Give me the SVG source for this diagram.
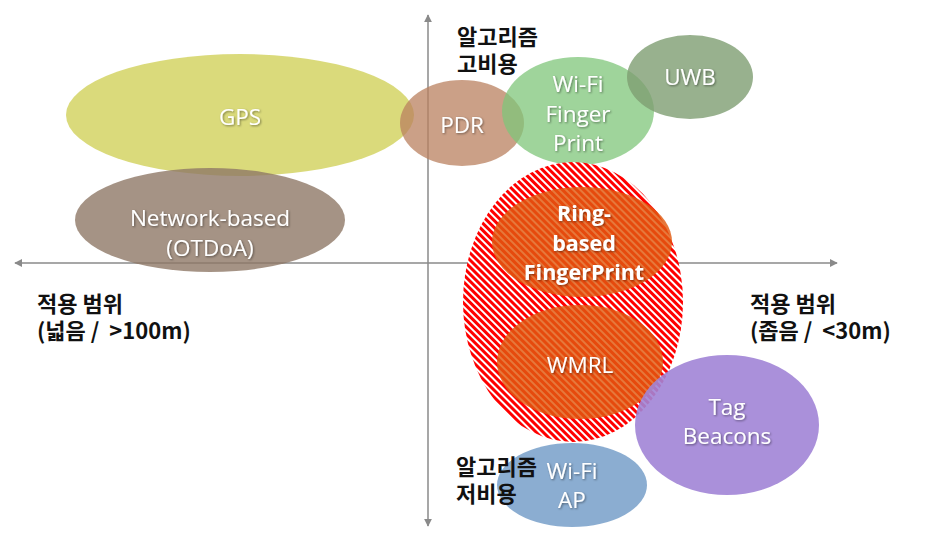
<svg xmlns="http://www.w3.org/2000/svg" width="944" height="542" viewBox="0 0 944 542">
<defs>
<marker id="arr" viewBox="0 0 10 10" refX="9" refY="5" markerWidth="8" markerHeight="8" markerUnits="userSpaceOnUse" orient="auto-start-reverse">
<path d="M0,0 L10,5 L0,10 Z" fill="#8a8a8a"/>
</marker>
<pattern id="hatch" width="5" height="5" patternUnits="userSpaceOnUse" patternTransform="rotate(45)">
<rect width="5" height="5" fill="#ffffff"/>
<rect width="5" height="3" fill="#ff0000"/>
</pattern>
<filter id="ts" x="-20%" y="-20%" width="140%" height="140%">
<feDropShadow dx="1" dy="1" stdDeviation="1" flood-color="#000" flood-opacity="0.45"/>
</filter>
</defs>
<style>
.lbl{font-family:"Segoe UI","Open Sans","Noto Sans",sans-serif;font-size:22.5px;fill:#fff;text-anchor:middle;filter:url(#ts)}
.bold{font-weight:bold}
.kr{font-family:"Noto Sans CJK KR","Noto Sans",sans-serif;font-size:22px;font-weight:bold;fill:#111}
.axis{stroke:#8a8a8a;stroke-width:1.5;fill:none}
</style>
<rect width="944" height="542" fill="#fff"/>
<g id="connectors">
<line class="axis" x1="428" y1="526" x2="428" y2="15" marker-end="url(#arr)" marker-start="url(#arr)"/>
<line class="axis" x1="15" y1="263" x2="837" y2="263" marker-end="url(#arr)" marker-start="url(#arr)"/>
</g>
<g id="gps">
<ellipse cx="240" cy="115" rx="174" ry="61" fill="#d3d364" fill-opacity="0.85"/>
<text class="lbl" x="240" y="125">GPS</text>
</g>
<g id="network">
<ellipse cx="210" cy="220" rx="135" ry="52" fill="#8f7866" fill-opacity="0.8"/>
<text class="lbl" x="210" y="226">Network-based</text>
<text class="lbl" x="210" y="256">(OTDoA)</text>
</g>
<g id="pdr">
<ellipse cx="462" cy="123" rx="62" ry="43" fill="#b9805f" fill-opacity="0.75"/>
<text class="lbl" x="462" y="133">PDR</text>
</g>
<g id="wififp">
<ellipse cx="578" cy="111" rx="76" ry="54" fill="#7fc57a" fill-opacity="0.75"/>
<text class="lbl" x="578" y="92">Wi-Fi</text>
<text class="lbl" x="578" y="122">Finger</text>
<text class="lbl" x="578" y="151">Print</text>
</g>
<g id="uwb">
<ellipse cx="690" cy="77" rx="63" ry="42" fill="#7e9d72" fill-opacity="0.8"/>
<text class="lbl" x="690" y="85">UWB</text>
</g>
<g id="hatched">
<ellipse cx="573" cy="302" rx="110" ry="140" fill="url(#hatch)"/>
</g>
<g id="ring">
<ellipse cx="582" cy="242" rx="90" ry="55" fill="#e05a10" fill-opacity="0.82"/>
<text class="lbl bold" x="584" y="221" style="font-size:21.5px">Ring-</text>
<text class="lbl bold" x="584" y="251" style="font-size:21.5px">based</text>
<text class="lbl bold" x="584" y="280" style="font-size:21.5px">FingerPrint</text>
</g>
<g id="wmrl">
<ellipse cx="580" cy="362" rx="83" ry="57" fill="#e05a10" fill-opacity="0.82"/>
<text class="lbl" x="580" y="373">WMRL</text>
</g>
<g id="tag">
<ellipse cx="727" cy="425" rx="92" ry="70" fill="#a184d6" fill-opacity="0.9"/>
<text class="lbl" x="727" y="415">Tag</text>
<text class="lbl" x="727" y="444">Beacons</text>
</g>
<g id="wifiap">
<ellipse cx="572" cy="485" rx="75" ry="42" fill="#7ea4cc" fill-opacity="0.9"/>
<text class="lbl" x="572" y="479">Wi-Fi</text>
<text class="lbl" x="572" y="508">AP</text>
</g>
<g id="labels">
<text class="kr" x="457" y="45">알고리즘<tspan x="457" dy="27">고비용</tspan></text>
<text class="kr" x="456" y="475">알고리즘<tspan x="456" dy="27">저비용</tspan></text>
<text class="kr" x="37" y="312" xml:space="preserve">적용 범위<tspan x="37" dy="27">(넓음 /  &gt;100m)</tspan></text>
<text class="kr" x="750" y="312" xml:space="preserve">적용 범위<tspan x="750" dy="27">(좁음 /  &lt;30m)</tspan></text>
</g>
</svg>
